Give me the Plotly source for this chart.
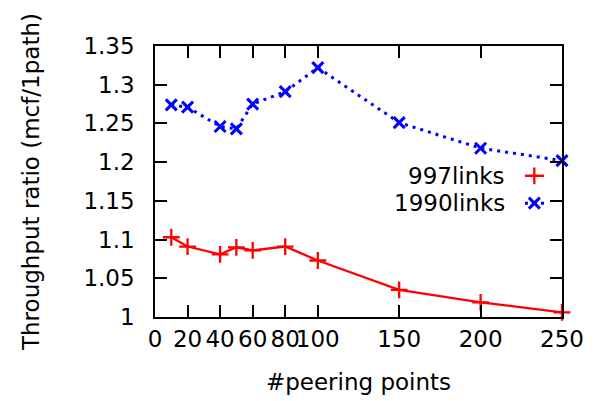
import plotly.graph_objects as go

peering = [10, 20, 40, 50, 60, 80, 100, 150, 200, 250]
links997 = [1.103, 1.091, 1.081, 1.090, 1.086, 1.091, 1.073, 1.035, 1.019, 1.006]
links1990 = [1.274, 1.271, 1.246, 1.243, 1.275, 1.291, 1.322, 1.251, 1.218, 1.202]
series_names = ["997links", "1990links"]
x_ticks = [0, 20, 40, 60, 80, 100, 150, 200, 250]
y_ticks = [1, 1.05, 1.1, 1.15, 1.2, 1.25, 1.3, 1.35]
y_tick_text = ["1", "1.05", "1.1", "1.15", "1.2", "1.25", "1.3", "1.35"]

RED = "#ff0000"
BLUE = "#0000ff"
FONT = "DejaVu Sans, Verdana, sans-serif"
FS = 23
DOT = "3px,5px"

fig = go.Figure()
fig.add_trace(go.Scatter(
    x=peering, y=links997, mode="lines+markers", name=series_names[0],
    line=dict(color=RED, width=2.3),
    marker=dict(symbol="cross-thin", size=12, line=dict(color=RED, width=2.3)),
    showlegend=False, cliponaxis=False))
fig.add_trace(go.Scatter(
    x=peering, y=links1990, mode="lines+markers", name=series_names[1],
    line=dict(color=BLUE, width=3, dash=DOT),
    marker=dict(symbol="x-thin", size=11, line=dict(color=BLUE, width=3)),
    showlegend=False, cliponaxis=False))

# legend samples (gnuplot style: text then sample to the right)
leg_y = [0.521, 0.42]
fig.add_trace(go.Scatter(
    x=[0.909, 0.956], y=[leg_y[0]] * 2, xaxis="x2", yaxis="y2", mode="lines",
    line=dict(color=RED, width=2.3), showlegend=False, hoverinfo="skip"))
fig.add_trace(go.Scatter(
    x=[0.932], y=[leg_y[0]], xaxis="x2", yaxis="y2", mode="markers",
    marker=dict(symbol="cross-thin", size=12, line=dict(color=RED, width=2.3)),
    showlegend=False, hoverinfo="skip"))
fig.add_trace(go.Scatter(
    x=[0.909, 0.956], y=[leg_y[1]] * 2, xaxis="x2", yaxis="y2", mode="lines",
    line=dict(color=BLUE, width=3, dash=DOT), showlegend=False, hoverinfo="skip"))
fig.add_trace(go.Scatter(
    x=[0.932], y=[leg_y[1]], xaxis="x2", yaxis="y2", mode="markers",
    marker=dict(symbol="x-thin", size=11, line=dict(color=BLUE, width=3)),
    showlegend=False, hoverinfo="skip"))

for name, yy in zip(series_names, leg_y):
    fig.add_annotation(x=0.864, y=yy, xref="paper", yref="paper", text=name,
                       showarrow=False, xanchor="right", yanchor="middle",
                       font=dict(family=FONT, size=FS, color="black"))

axis_common = dict(ticks="inside", ticklen=12, tickwidth=1.5, tickcolor="black",
                   showline=True, linecolor="black", linewidth=1.5, mirror="ticks",
                   showgrid=False, zeroline=False, automargin=False, tickangle=0,
                   tickfont=dict(family=FONT, size=FS, color="black"))

fig.update_layout(
    width=598, height=401,
    margin=dict(l=147, r=44, t=38, b=92),
    paper_bgcolor="white", plot_bgcolor="white",
    font=dict(family=FONT, size=FS, color="black"),
    xaxis=dict(range=[0, 250], tickvals=x_ticks, ticklabelstandoff=1,
               title=dict(text="#peering points", standoff=23,
                          font=dict(family=FONT, size=FS, color="black")),
               **axis_common),
    yaxis=dict(range=[1, 1.35], tickvals=y_ticks, ticktext=y_tick_text,
               ticklabelstandoff=14,
               title=dict(text="Throughput ratio (mcf/1path)", standoff=37,
                          font=dict(family=FONT, size=FS, color="black")),
               **axis_common),
    xaxis2=dict(range=[0, 1], overlaying="x", visible=False, fixedrange=True),
    yaxis2=dict(range=[0, 1], overlaying="y", visible=False, fixedrange=True),
)

fig.write_html("out.html")
